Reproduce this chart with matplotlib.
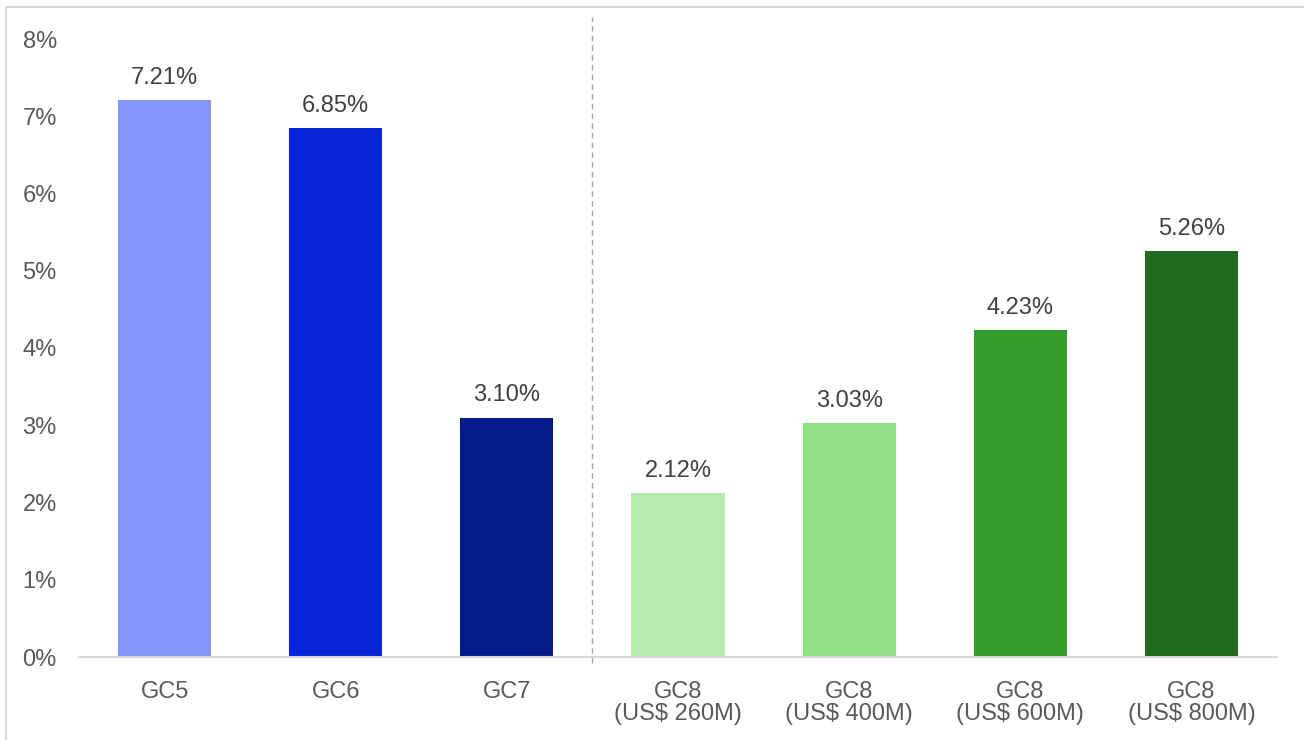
import matplotlib
matplotlib.use("Agg")
import matplotlib.pyplot as plt
from matplotlib.patches import Rectangle
from matplotlib.ticker import PercentFormatter

# chart data
categories = ["GC5", "GC6", "GC7", "GC8\n(US$ 260M)", "GC8\n(US$ 400M)",
              "GC8\n(US$ 600M)", "GC8\n(US$ 800M)"]
values = [7.21, 6.85, 3.10, 2.12, 3.03, 4.23, 5.26]
bar_colors = ["#8494FB", "#0725D8", "#031A8C", "#B5EBB0", "#92E086",
              "#349C28", "#216B1C"]

plt.rcParams["font.family"] = ["Liberation Sans", "DejaVu Sans"]
text_color = "#595959"

fig = plt.figure(figsize=(13.04, 7.4), dpi=100)
ax = fig.add_axes([79 / 1304, 83 / 740, 1198 / 1304, 618 / 740])

x = range(len(categories))
bars = ax.bar(x, values, width=0.545, color=bar_colors, zorder=2)

for b, v in zip(bars, values):
    ax.annotate(f"{v:.2f}%", (b.get_x() + b.get_width() / 2, v),
                xytext=(0, 8), textcoords="offset points",
                ha="center", va="bottom", fontsize=17, color="#404040")

ax.set_xlim(-0.5, len(categories) - 0.5)
ax.set_ylim(0, 8)
ax.set_yticks(range(0, 9))
ax.yaxis.set_major_formatter(PercentFormatter(decimals=0))
ax.set_xticks(list(x))
ax.set_xticklabels(categories, linespacing=1.05)
ax.tick_params(axis="both", length=0, labelsize=17, labelcolor=text_color)
ax.tick_params(axis="y", pad=16)
ax.tick_params(axis="x", pad=17)

for s in ["top", "right", "left"]:
    ax.spines[s].set_visible(False)
ax.spines["bottom"].set_color("#D9D9D9")
ax.spines["bottom"].set_linewidth(1.5)

# divider between earlier rounds and GC8 scenarios
ax.plot([2.5, 2.5], [-0.08, 8.28], color="#A6A6A6", lw=1,
        ls=(0, (4, 3)), clip_on=False, zorder=1)

# outer frame (left and top edges)
fig.patches.append(Rectangle((6 / 1304, -0.01), 1.1, 733 / 740 + 0.01,
                             transform=fig.transFigure, fill=False,
                             edgecolor="#D9D9D9", lw=1.5))

fig.savefig("out.png", dpi=100)
